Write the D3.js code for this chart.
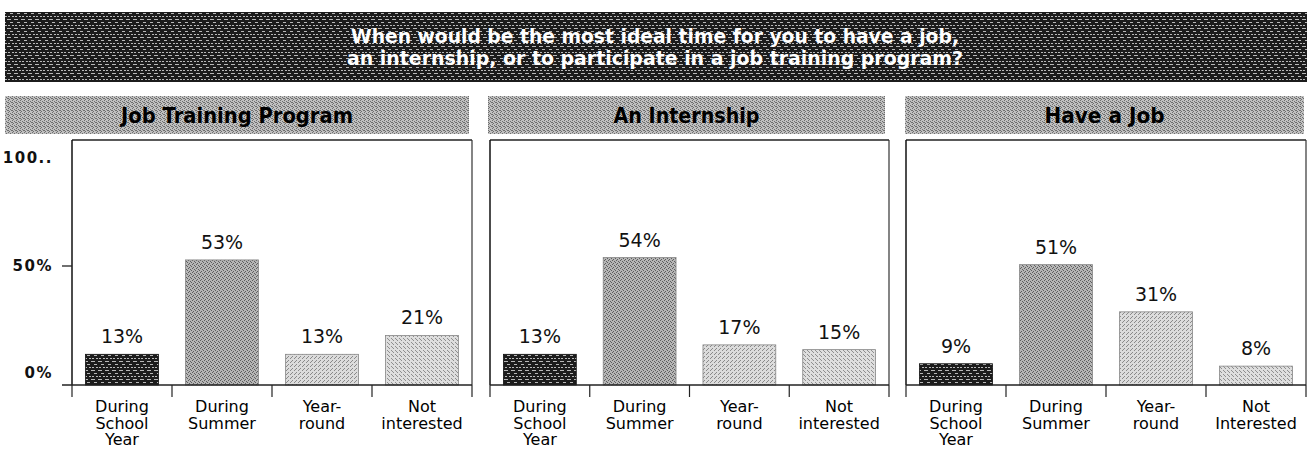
<!DOCTYPE html>
<html><head><meta charset="utf-8">
<script src="https://cdn.jsdelivr.net/npm/d3@7"></script>
<style>body{margin:0;background:#fff}svg{display:block}</style>
</head><body><svg id="c" width="1312" height="459"></svg>
<script>
// ---- data ----
const titleLines = ["When would be the most ideal time for you to have a job,", "an internship, or to participate in a job training program?"];
const panelTitles = ["Job Training Program", "An Internship", "Have a Job"];
const categories = ["During School Year", "During Summer", "Year-round", "Not interested"];
const tickLabels1 = [["During","School","Year"],["During","Summer"],["Year-","round"],["Not","interested"]];
const tickLabels2 = [["During","School","Year"],["During","Summer"],["Year-","round"],["Not","interested"]];
const tickLabels3 = [["During","School","Year"],["During","Summer"],["Year-","round"],["Not","Interested"]];
const jobTraining = [13, 53, 13, 21];
const internship = [13, 54, 17, 15];
const haveAJob = [9, 51, 31, 8];
const yTickValues = [0, 50, 100];
const yTickLabels = ["0%", "50%", "100.."];

// ---- styles / layout ----
const svg = d3.select("#c");
const defs = svg.append("defs");
function stipple(id, bg, dot, pts, w, h) {
  const p = defs.append("pattern").attr("id", id).attr("patternUnits", "userSpaceOnUse").attr("width", w).attr("height", h);
  p.append("rect").attr("width", w).attr("height", h).attr("fill", bg);
  pts.forEach(([x, y, ww]) => p.append("rect").attr("x", x).attr("y", y).attr("width", ww || 1).attr("height", 1).attr("fill", dot));
}
stipple("stripes", "#1c1c1c", "#b8b8b8", [[0,1,4],[3,4,3],[1,7,2],[5,7,2]], 7, 9);
stipple("hdr", "#c0c0c0", "#6e6e6e", [[0,0],[2,1],[1,3],[3,2],[0,2,1]], 4, 4);
stipple("bar2", "#b6b6b6", "#5e5e5e", [[0,0],[2,1],[1,3],[3,2]], 4, 4);
stipple("bar3", "#dcdcdc", "#8a8a8a", [[0,0],[2,2],[3,1]], 4, 4);
stipple("bar4", "#dedede", "#8e8e8e", [[1,0],[3,2],[0,3]], 4, 4);
const barFills = ["url(#stripes)", "url(#bar2)", "url(#bar3)", "url(#bar4)"];

const FONT = "'DejaVu Sans', sans-serif";

// title bar
svg.append("rect").attr("x", 5).attr("y", 12).attr("width", 1302).attr("height", 70).attr("fill", "url(#stripes)");
const titleLen = [608, 616];
svg.selectAll("text.title").data(titleLines).join("text").attr("class", "title")
  .attr("x", 655).attr("y", (d, i) => 43 + i * 22)
  .attr("text-anchor", "middle").attr("font-family", FONT).attr("font-weight", "bold")
  .attr("font-size", 20).attr("fill", "#fff")
  .attr("textLength", (d, i) => titleLen[i]).attr("lengthAdjust", "spacingAndGlyphs")
  .text(d => d);

const panels = [
  { title: panelTitles[0], values: jobTraining, ticks: tickLabels1, hx0: 5, hx1: 469, px0: 72, px1: 472, yAxis: true, tl: 232 },
  { title: panelTitles[1], values: internship, ticks: tickLabels2, hx0: 488, hx1: 885, px0: 490, px1: 889, yAxis: false, tl: 146 },
  { title: panelTitles[2], values: haveAJob, ticks: tickLabels3, hx0: 905, hx1: 1304, px0: 906, px1: 1306, yAxis: false, tl: 120 }
];

const y = d3.scaleLinear().domain([0, 100]).range([385, 149]);
const yLabelPos = d3.scaleLinear().domain([0, 100]).range([373, 158]);
const plotTop = 140, base = y(0);

panels.forEach(p => {
  const g = svg.append("g");
  // header
  g.append("rect").attr("x", p.hx0).attr("y", 96).attr("width", p.hx1 - p.hx0).attr("height", 38).attr("fill", "url(#hdr)");
  g.append("text").attr("x", (p.hx0 + p.hx1) / 2).attr("y", 123).attr("text-anchor", "middle")
    .attr("font-family", FONT).attr("font-weight", "bold").attr("font-size", 21).attr("fill", "#000")
    .attr("textLength", p.tl).attr("lengthAdjust", "spacingAndGlyphs").text(p.title);

  const x = d3.scaleBand().domain(categories).range([p.px0, p.px1]).paddingInner(0.27).paddingOuter(0.135);

  // frame
  g.append("line").attr("x1", p.px0).attr("x2", p.px1).attr("y1", plotTop).attr("y2", plotTop).attr("stroke", "#222").attr("stroke-width", 1.5);
  g.append("line").attr("x1", p.px0).attr("x2", p.px0).attr("y1", plotTop).attr("y2", base).attr("stroke", "#111").attr("stroke-width", 1.5);
  g.append("line").attr("x1", p.px1).attr("x2", p.px1).attr("y1", plotTop).attr("y2", base).attr("stroke", "#333").attr("stroke-width", 1.2);

  // bars
  g.selectAll("rect.bar").data(p.values).join("rect").attr("class", "bar")
    .attr("x", (d, i) => x(categories[i])).attr("width", x.bandwidth())
    .attr("y", d => y(d)).attr("height", d => base - y(d))
    .attr("fill", (d, i) => barFills[i]).attr("stroke", (d, i) => i === 0 ? "#111" : "#888").attr("stroke-width", 0.8);

  // value labels
  g.selectAll("text.val").data(p.values).join("text").attr("class", "val")
    .attr("x", (d, i) => x(categories[i]) + x.bandwidth() / 2).attr("y", d => y(d) - 11)
    .attr("text-anchor", "middle").attr("font-family", FONT).attr("font-size", 19).attr("fill", "#111")
    .text(d => d + "%");

  // x axis
  const xAxis = d3.axisBottom(x).tickSize(0).tickFormat("");
  const ax = g.append("g").attr("transform", `translate(0,${base})`).call(xAxis);
  ax.select(".domain").remove();
  g.append("line").attr("x1", p.yAxis ? p.px0 - 10 : p.px0).attr("x2", p.px1).attr("y1", base).attr("y2", base).attr("stroke", "#222").attr("stroke-width", 1.5);
  // band boundary ticks
  const bounds = categories.map(c => x(c) - x.step() * x.paddingInner() / 2).concat([p.px1]);
  bounds[0] = p.px0;
  g.selectAll("line.bt").data(bounds).join("line").attr("class", "bt")
    .attr("x1", d => d).attr("x2", d => d).attr("y1", base).attr("y2", base + 12)
    .attr("stroke", "#222").attr("stroke-width", 1.2);
  // tick labels
  categories.forEach((c, i) => {
    const t = g.append("text").attr("x", x(c) + x.bandwidth() / 2).attr("y", 412)
      .attr("text-anchor", "middle").attr("font-family", FONT).attr("font-size", 16).attr("fill", "#000");
    p.ticks[i].forEach((line, j) => t.append("tspan").attr("x", x(c) + x.bandwidth() / 2).attr("dy", j === 0 ? 0 : 16.5).text(line));
  });

  // y axis
  if (p.yAxis) {
    const yAx = d3.axisLeft(yLabelPos).tickValues(yTickValues).tickFormat((d, i) => yTickLabels[i]).tickSize(10).tickPadding(9);
    const ya = g.append("g").attr("transform", `translate(${p.px0},0)`).call(yAx);
    ya.select(".domain").remove();
    ya.selectAll(".tick line").attr("stroke", (d) => d === 50 ? "#222" : "none").attr("stroke-width", 1.3);
    ya.selectAll(".tick text").attr("font-family", FONT).attr("font-size", 15).attr("font-weight", "bold")
      .attr("letter-spacing", 1.5).attr("fill", "#111");
  }
});
</script></body></html>
